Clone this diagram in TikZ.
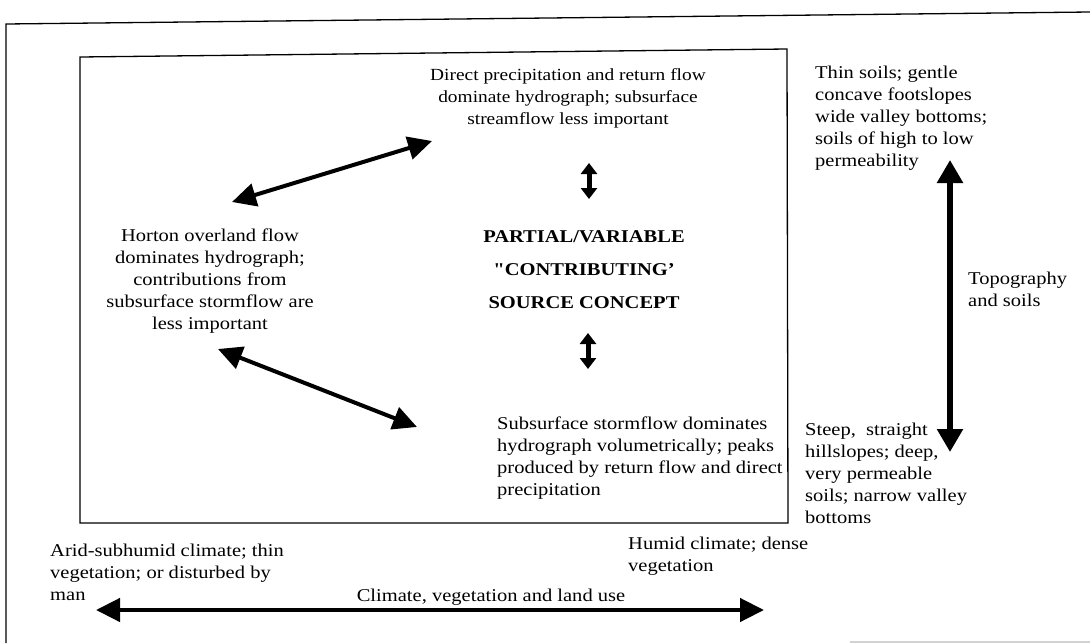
\documentclass[tikz,border=0pt]{standalone}
\usepackage{fontspec}
\setmainfont{Liberation Serif}[FakeStretch=1.14]
\newfontfamily\quotefont{Liberation Serif Bold}[FakeStretch=1.14]
\usetikzlibrary{arrows.meta}

\begin{document}
\begin{tikzpicture}
  [x=1pt, y=-1pt]
  \tikzstyle{txt}  = [inner sep=0pt, font=\fontsize{18}{22}\selectfont];
  \tikzstyle{ltxt} = [txt, align=left, anchor=west];
  \tikzstyle{ctxt} = [txt, align=center];
  \tikzstyle{frame} = [draw=black, line width=1.3pt];
  \tikzstyle{dbl} = [line width=4pt, {Triangle[length=24pt,width=23pt]}-{Triangle[length=24pt,width=23pt]}];
  \tikzstyle{small_dbl} = [line width=5pt, {Triangle[length=11pt,width=16pt]}-{Triangle[length=11pt,width=16pt]}];
  \tikzstyle{big_dbl} = [line width=5.5pt, {Triangle[length=23pt,width=25pt]}-{Triangle[length=23pt,width=25pt]}];

  \useasboundingbox (0, 0) rectangle (1090, 643);

  % frames
  \draw[frame] (6, 643) -- (6, 24) -- (1090, 12);
  \draw[frame] (80, 523) -- (80, 57) -- (787, 49) -- (788, 523) -- cycle;
  \draw[gray!35, line width=1.5pt] (850, 642) -- (1090, 642);

  % texts inside the box
  \node[ctxt, font=\fontsize{17}{22}\selectfont] (direct) at (568, 98)
    {Direct precipitation and return flow \\ dominate hydrograph; subsurface \\ streamflow less important};
  \node[ctxt] (horton) at (210, 281)
    {Horton overland flow \\ dominates hydrograph; \\ contributions from \\ subsurface stormflow are \\ less important};
  \node[ctxt, font=\fontsize{18}{33}\selectfont\bfseries] (concept) at (584, 270)
    {PARTIAL/VARIABLE \\ {\quotefont"}CONTRIBUTING' \\ SOURCE CONCEPT};
  \node[ltxt] (subsurf) at (497, 458)
    {Subsurface stormflow dominates \\ hydrograph volumetrically; peaks \\ produced by return flow and direct \\ precipitation};

  % topography and soils
  \node[ltxt] (thin) at (815, 118)
    {Thin soils; gentle \\ concave footslopes \\ wide valley bottoms; \\ soils of high to low \\ permeability};
  \node[ltxt] (steep) at (805, 473)
    {Steep,\ \ straight \\ hillslopes; deep, \\ very permeable \\ soils; narrow valley \\ bottoms};
  \node[ltxt] (topo) at (968, 289) {Topography \\ and soils};

  % climate
  \node[ltxt] (arid) at (50, 572) {Arid-subhumid climate; thin \\ vegetation; or disturbed by \\ man};
  \node[ltxt] (humid) at (628, 556) {Humid climate; dense \\ vegetation};
  \node[txt] (climate) at (491, 597) {Climate, vegetation and land use};

  % arrow ends
  \coordinate (h1) at (232, 202);
  \coordinate (d1) at (432, 141);
  \coordinate (h2) at (218, 349);
  \coordinate (s1) at (417, 427);
  \coordinate (c1) at (589, 163);
  \coordinate (c2) at (589, 199);
  \coordinate (c3) at (588, 333);
  \coordinate (c4) at (588, 369);
  \coordinate (t1) at (950, 160);
  \coordinate (t2) at (950, 452);
  \coordinate (a1) at (96, 610);
  \coordinate (a2) at (764, 610);

  \draw[dbl] (h1) -- (d1);
  \draw[dbl] (h2) -- (s1);
  \draw[small_dbl] (c1) -- (c2);
  \draw[small_dbl] (c3) -- (c4);
  \draw[big_dbl] (t1) -- (t2);
  \draw[dbl, line width=4.5pt] (a1) -- (a2);

\end{tikzpicture}
\end{document}
